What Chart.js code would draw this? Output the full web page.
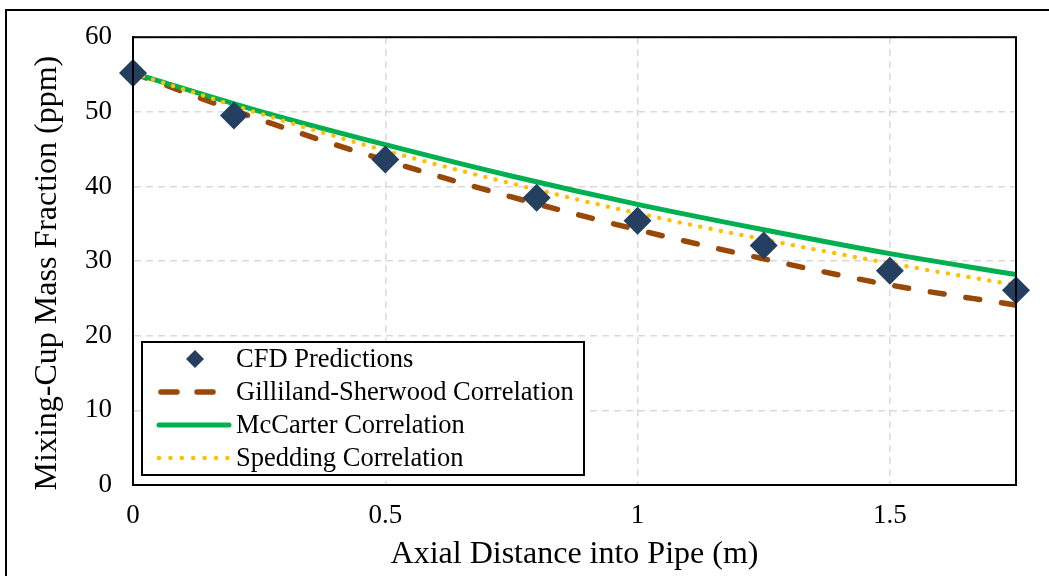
<!DOCTYPE html>
<html><head><meta charset="utf-8">
<script src="https://cdn.jsdelivr.net/npm/chart.js@4/dist/chart.umd.min.js"></script>
<style>html,body{margin:0;padding:0;background:#fff;} #wrap{width:1049px;height:576px;position:relative;}</style>
</head><body><div id="wrap"><canvas id="c" width="1049" height="576"></canvas></div>
<script>
const cfdX = [0, 0.2, 0.5, 0.8, 1.0, 1.25, 1.5, 1.75];
const cfdY = [55.2, 49.5, 43.6, 38.5, 35.4, 32.1, 28.7, 26.1];
const corrX = [0, 0.25, 0.5, 0.75, 1.0, 1.25, 1.5, 1.75];
const gillilandY = [55.2, 49.0, 43.5, 38.6, 34.2, 30.3, 26.8, 24.1];
const mccarterY = [55.2, 50.1, 45.6, 41.4, 37.6, 34.2, 31.0, 28.2];
const speddingY = [55.2, 49.8, 44.8, 40.4, 36.4, 32.9, 29.7, 26.8];
const xTicks = [0, 0.5, 1, 1.5];
const yTicks = [0, 10, 20, 30, 40, 50, 60];
const seriesLabels = ['CFD Predictions', 'Gilliland-Sherwood Correlation', 'McCarter Correlation', 'Spedding Correlation'];
const xTitle = 'Axial Distance into Pipe (m)';
const yTitle = 'Mixing-Cup Mass Fraction (ppm)';

const FONT = "'Liberation Serif', 'Times New Roman', serif";
Chart.defaults.font.family = FONT;
Chart.defaults.color = '#000';

const pts = (xs, ys) => xs.map((x, i) => ({x: x, y: ys[i]}));

const frameAndBorder = {
  id: 'frameAndBorder',
  afterDraw(chart) {
    const ctx = chart.ctx, ca = chart.chartArea;
    ctx.save();
    // plot frame
    ctx.strokeStyle = '#000'; ctx.lineWidth = 2; ctx.setLineDash([]);
    ctx.strokeRect(ca.left, ca.top, ca.right - ca.left, ca.bottom - ca.top);
    // outer border (left + top visible)
    ctx.beginPath();
    ctx.moveTo(6, chart.height); ctx.lineTo(6, 10); ctx.lineTo(chart.width, 10);
    ctx.stroke();
    // y axis title
    ctx.save();
    ctx.translate(48, (ca.top + ca.bottom) / 2 + 12);
    ctx.rotate(-Math.PI / 2);
    ctx.font = "32px " + FONT;
    ctx.fillStyle = '#000';
    ctx.textAlign = 'center'; ctx.textBaseline = 'middle';
    ctx.fillText(yTitle, 0, 0);
    ctx.restore();
    // legend box
    const bx = ca.left + 9, by = ca.bottom - 143, bw = 442, bh = 133;
    ctx.fillStyle = '#fff';
    ctx.fillRect(bx, by, bw, bh);
    ctx.strokeRect(bx, by, bw, bh);
    const ds = chart.data.datasets;
    const tx = bx + 94;
    ctx.font = "26.5px " + FONT;
    ctx.textBaseline = 'middle';
    ctx.textAlign = 'left';
    ds.forEach((d, i) => {
      const y = by + 17 + i * 33;
      ctx.save();
      if (d.showLine === false) {
        const cx = bx + 53, r = 9;
        ctx.fillStyle = d.backgroundColor;
        ctx.beginPath();
        ctx.moveTo(cx, y - r); ctx.lineTo(cx + r, y); ctx.lineTo(cx, y + r); ctx.lineTo(cx - r, y); ctx.closePath();
        ctx.fill();
      } else {
        ctx.strokeStyle = d.borderColor;
        ctx.lineWidth = d.borderWidth;
        ctx.lineCap = d.borderCapStyle || 'butt';
        ctx.setLineDash(d.legendDash || []);
        ctx.beginPath(); ctx.moveTo(bx + d.legendFrom, y); ctx.lineTo(bx + d.legendTo, y); ctx.stroke();
      }
      ctx.restore();
      ctx.fillStyle = '#000';
      ctx.fillText(d.label, tx, y + 1);
    });
    ctx.restore();
  }
};

new Chart(document.getElementById('c'), {
  type: 'scatter',
  data: {
    datasets: [
      { label: seriesLabels[0], data: pts(cfdX, cfdY), showLine: false, pointStyle: 'rectRot', clip: false,
        pointRadius: 14, pointHoverRadius: 14, backgroundColor: '#243F60', borderColor: '#243F60', borderWidth: 0, order: 0 },
      { label: seriesLabels[1], data: pts(corrX, gillilandY), showLine: true, pointRadius: 0, borderColor: '#984807',
        borderWidth: 5.5, borderDash: [14, 22], borderCapStyle: 'round', legendDash: [16, 20], legendFrom: 19, legendTo: 74,
        cubicInterpolationMode: 'monotone', order: 3 },
      { label: seriesLabels[2], data: pts(corrX, mccarterY), showLine: true, pointRadius: 0, borderColor: '#00B050',
        borderWidth: 5, borderCapStyle: 'round', legendFrom: 17, legendTo: 87, cubicInterpolationMode: 'monotone', order: 2 },
      { label: seriesLabels[3], data: pts(corrX, speddingY), showLine: true, pointRadius: 0, borderColor: '#FFC000',
        borderWidth: 4.5, borderDash: [0, 10.5], borderCapStyle: 'round', legendDash: [0, 11.4], legendFrom: 17, legendTo: 87,
        cubicInterpolationMode: 'monotone', order: 1 }
    ]
  },
  options: {
    responsive: false,
    animation: false,
    layout: { padding: { top: 36, right: 33, left: 0, bottom: 0 } },
    plugins: { legend: { display: false }, tooltip: { enabled: false } },
    scales: {
      x: {
        type: 'linear', min: 0, max: 1.75,
        afterBuildTicks: s => { s.ticks = xTicks.map(v => ({value: v})); },
        afterFit: s => { s.height = 91; },
        ticks: { font: { size: 27 }, padding: 15, maxRotation: 0, callback: v => String(v) },
        grid: { color: '#D9D9D9', lineWidth: 1.5, drawTicks: false },
        border: { display: true, color: '#000', width: 2, dash: [7, 5] },
        title: { display: true, text: xTitle, font: { size: 32 }, padding: { top: 0, bottom: 2 } }
      },
      y: {
        min: 0, max: 60,
        afterBuildTicks: s => { s.ticks = yTicks.map(v => ({value: v})); },
        afterFit: s => { s.width = 133; },
        ticks: { font: { size: 27 }, padding: 21 },
        grid: { color: '#D9D9D9', lineWidth: 1.5, drawTicks: false },
        border: { display: true, color: '#000', width: 2, dash: [7, 5] },
        title: { display: false }
      }
    }
  },
  plugins: [frameAndBorder]
});
</script></body></html>
